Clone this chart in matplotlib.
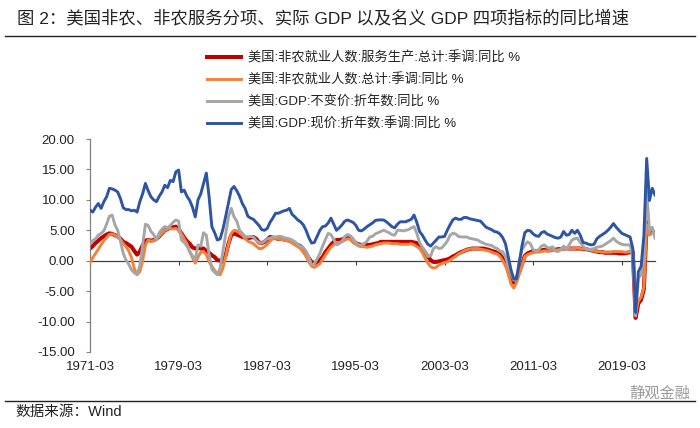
import matplotlib
matplotlib.use("Agg")
import matplotlib.pyplot as plt
from matplotlib.lines import Line2D

plt.rcParams['font.family'] = ['Liberation Sans', 'Noto Sans CJK SC', 'DejaVu Sans']

# quarterly yoy %, 1971Q1 .. 2022Q1 (one row per year)
services_payroll = [
    2.0, 2.4, 2.9, 3.3,  3.7, 4.0, 4.3, 4.5,  4.4, 4.2, 4.0, 3.6,  3.1, 2.9, 2.6, 2.3,
    1.6, 1.0, 1.5, 2.5,  3.3, 3.4, 3.3, 3.4,  3.6, 4.0, 4.5, 5.0,  5.2, 5.4, 5.5, 5.6,
    5.2, 4.5, 3.8, 3.2,  2.8, 2.2, 2.0, 2.1,  2.0, 2.0, 1.6, 1.3,  0.9, 0.6, 0.1, 0.0,
    -0.2, 0.9, 2.8, 4.2,  4.5, 4.3, 4.1, 3.9,  3.8, 3.7, 3.8, 3.9,  3.6, 3.0, 2.9, 3.1,
    3.5, 3.9, 3.8, 3.7,  3.6, 3.6, 3.5, 3.4,  3.3, 3.1, 2.8, 2.6,  2.4, 1.9, 1.2, 0.4,
    -0.2, -0.4, -0.3, 0.1,  0.6, 1.4, 2.0, 2.6,  3.1, 3.4, 3.4, 3.5,  3.7, 3.9, 3.7, 3.2,
    2.9, 2.7, 2.6, 2.6,  2.6, 2.6, 2.7, 2.8,  2.9, 3.1, 3.1, 3.1,  3.1, 3.1, 3.1, 3.1,
    3.1, 3.1, 3.1, 3.1,  3.1, 3.0, 2.9, 2.5,  2.0, 1.3, 0.7, 0.1,  -0.2, -0.2, -0.1, 0.0,
    0.1, 0.2, 0.4, 0.7,  0.9, 1.2, 1.4, 1.6,  1.8, 1.9, 2.0, 2.0,  2.0, 2.0, 2.0, 1.9,
    1.8, 1.6, 1.5, 1.3,  1.0, 0.4, -0.3, -1.5,  -3.0, -3.6, -2.8, -1.8,  -0.5, 0.8, 1.2, 1.4,
    1.6, 1.6, 1.6, 1.7,  1.8, 1.7, 1.7, 1.8,  1.8, 1.9, 1.9, 2.0,  2.0, 2.0, 2.0, 2.0,
    2.0, 2.0, 1.9, 1.9,  1.8, 1.7, 1.6, 1.5,  1.4, 1.4, 1.3, 1.3,  1.3, 1.3, 1.3, 1.2,
    1.2, 1.2, 1.3, 1.4,  1.4, -9.4, -7.0, -6.4,  -4.6, 6.4, 4.4, 4.8,  4.6,
]

total_payroll = [
    -0.2, 0.5, 1.2, 1.9,  2.6, 3.3, 3.8, 4.3,  4.4, 4.2, 3.9, 3.5,  2.8, 2.3, 1.6, 0.5,
    -1.3, -2.3, -1.8, 0.0,  2.5, 3.4, 3.2, 3.3,  3.6, 4.0, 4.5, 5.0,  5.2, 5.3, 5.2, 5.3,
    5.0, 4.4, 3.6, 2.8,  1.5, 0.5, -0.4, 0.6,  1.4, 1.5, 1.0, -0.2,  -0.9, -1.6, -2.2, -2.3,
    -1.2, 0.7, 2.7, 4.5,  5.0, 4.9, 4.5, 4.2,  3.6, 3.2, 3.0, 2.8,  2.4, 2.0, 2.0, 2.3,
    2.7, 3.2, 3.6, 3.7,  3.6, 3.5, 3.4, 3.3,  3.2, 2.9, 2.6, 2.3,  2.0, 1.4, 0.7, -0.2,
    -0.9, -1.1, -0.8, -0.5,  0.2, 0.9, 1.6, 2.2,  2.6, 3.0, 3.0, 3.1,  3.4, 3.6, 3.5, 3.0,
    2.7, 2.4, 2.3, 2.3,  2.2, 2.3, 2.4, 2.6,  2.7, 2.8, 2.9, 2.9,  2.9, 2.8, 2.8, 2.8,
    2.7, 2.7, 2.7, 2.7,  2.8, 2.6, 2.3, 2.0,  1.3, 0.4, -0.4, -1.0,  -1.2, -1.1, -0.7, -0.5,
    -0.3, -0.2, 0.1, 0.4,  0.7, 1.1, 1.3, 1.6,  1.8, 1.9, 2.0, 2.0,  2.0, 1.9, 1.8, 1.7,
    1.6, 1.4, 1.2, 1.1,  0.7, 0.0, -0.8, -2.2,  -3.8, -4.5, -3.6, -2.2,  -0.8, 0.7, 1.0, 1.2,
    1.3, 1.4, 1.4, 1.5,  1.6, 1.6, 1.7, 1.7,  1.7, 1.8, 1.8, 1.9,  1.9, 2.0, 2.0, 2.0,
    2.1, 2.0, 1.9, 1.9,  1.8, 1.7, 1.6, 1.5,  1.5, 1.4, 1.4, 1.4,  1.4, 1.5, 1.5, 1.5,
    1.5, 1.4, 1.4, 1.5,  1.4, -8.8, -6.6, -6.0,  -4.3, 5.9, 4.2, 4.6,  4.4,
]

real_gdp = [
    2.8, 3.3, 3.6, 4.2,  4.5, 4.9, 6.0, 7.3,  7.5, 5.9, 5.0, 3.2,  1.2, 0.1, -0.6, -1.5,
    -2.0, -2.3, -0.8, 2.5,  6.0, 5.8, 4.8, 4.3,  3.4, 4.6, 5.2, 5.6,  5.4, 5.8, 6.3, 6.7,
    6.5, 3.4, 3.0, 2.4,  1.5, 0.8, 0.1, 2.6,  2.4, 4.6, 4.2, 1.0,  -1.4, -1.9, -2.3, -1.2,
    1.6, 4.5, 7.2, 8.6,  7.2, 6.5, 5.0, 4.5,  4.0, 3.9, 4.0, 3.9,  3.3, 3.0, 2.9, 3.2,
    3.6, 3.7, 3.9, 3.9,  4.0, 4.0, 3.8, 3.7,  3.6, 3.4, 3.1, 2.7,  2.4, 2.1, 1.6, 0.6,
    -0.7, -0.5, 0.3, 1.2,  2.4, 3.5, 4.5, 4.3,  3.5, 2.6, 2.8, 3.2,  4.0, 4.3, 4.1, 3.6,
    3.0, 2.6, 2.6, 2.8,  3.2, 3.9, 4.0, 4.4,  4.6, 4.8, 5.0, 4.8,  4.6, 4.3, 4.2, 5.0,
    5.0, 4.9, 5.0, 5.1,  5.4, 5.6, 4.5, 3.0,  2.2, 1.5, 0.7, 0.8,  2.0, 2.3, 2.0, 2.1,
    2.6, 3.2, 4.2, 4.5,  4.4, 4.0, 3.9, 3.9,  3.9, 3.7, 3.6, 3.5,  3.4, 3.1, 2.9, 2.7,
    2.6, 2.5, 2.2, 2.0,  1.6, 1.5, 0.7, -0.9,  -2.1, -3.2, -3.1, -0.2,  1.8, 2.6, 3.1, 2.8,
    1.8, 1.6, 1.8, 2.4,  2.6, 2.2, 2.1, 2.3,  1.6, 1.5, 1.9, 2.4,  1.8, 2.6, 3.4, 3.6,
    3.7, 3.0, 2.4, 2.0,  1.8, 1.9, 2.0, 2.2,  2.3, 2.4, 2.7, 3.0,  3.3, 3.7, 3.2, 2.9,
    2.7, 2.6, 2.6, 2.6,  0.6, -9.1, -2.9, -2.3,  0.5, 11.5, 4.9, 5.5,  3.7,
]

nominal_gdp = [
    8.3, 8.0, 8.8, 9.4,  8.6, 9.7, 10.5, 11.9,  11.8, 11.6, 11.3, 10.2,  8.7, 8.4, 8.4, 8.2,
    8.3, 8.0, 9.7, 11.0,  12.7, 11.5, 10.5, 10.0,  9.7, 10.6, 11.3, 12.4,  12.0, 13.2, 13.0, 14.6,
    14.9, 11.3, 11.6, 10.6,  9.9, 8.8, 7.2, 10.0,  11.0, 12.7, 14.4, 10.5,  5.6, 4.6, 3.4, 3.6,
    5.2, 7.3, 9.5, 11.7,  12.2, 11.5, 10.6, 9.4,  8.6, 7.3, 7.0, 6.8,  6.3, 5.8, 5.1, 5.0,
    5.3, 6.3, 7.0, 7.8,  7.8, 8.0, 8.2, 8.3,  8.6, 7.6, 7.2, 6.7,  6.4, 5.9, 5.0, 3.8,
    2.9, 3.0, 4.0, 5.0,  5.6, 5.7, 6.2, 7.0,  6.0, 5.0, 5.4, 5.9,  6.5, 6.7, 6.5, 6.3,
    5.8, 5.0, 4.9, 5.2,  5.6, 5.9, 6.2, 6.6,  6.7, 6.7, 6.7, 6.4,  6.0, 5.6, 5.4, 6.0,
    6.4, 6.4, 6.4, 6.6,  6.8, 7.5, 6.3, 4.8,  4.2, 3.4, 2.7, 2.4,  2.9, 3.4, 3.9, 3.9,
    4.0, 5.0, 5.9, 6.7,  7.0, 6.8, 6.8, 7.1,  7.1, 6.9, 6.8, 6.7,  6.6, 6.5, 6.0, 5.5,
    5.3, 5.1, 4.8, 4.7,  4.4, 3.8, 2.8, 0.7,  -1.5, -3.0, -3.0, -0.3,  2.5, 4.6, 5.0, 4.9,
    4.4, 4.1, 4.0, 4.6,  4.8, 4.4, 4.2, 4.0,  3.8, 3.7, 3.9, 4.8,  4.2, 4.3, 5.0, 4.5,
    5.0, 4.2, 3.0, 2.9,  2.7, 2.6, 2.7, 3.6,  4.0, 4.3, 4.6, 5.0,  5.5, 6.1, 5.5, 5.0,
    4.5, 4.3, 4.1, 3.9,  2.0, -8.5, -1.8, -0.9,  4.2, 16.8, 9.9, 11.9,  10.8,
]

labels = [
    '美国:非农就业人数:服务生产:总计:季调:同比 %',
    '美国:非农就业人数:总计:季调:同比 %',
    '美国:GDP:不变价:折年数:同比 %',
    '美国:GDP:现价:折年数:季调:同比 %',
]
colors = ['#C00000', '#F2823A', '#A6A6A6', '#2E55A3']
widths = [2.9, 2.1, 2.1, 2.1]

tick_years = list(range(1971, 2020, 8))
tick_labels = [f'{y}-03' for y in tick_years]

fig = plt.figure(figsize=(7, 4.28), dpi=100)
ax = fig.add_axes([90 / 700, 1 - 352 / 428, 565 / 700, 213 / 428])

q = list(range(len(nominal_gdp)))
series = [services_payroll, total_payroll, real_gdp, nominal_gdp]
for i, (s, lab, c, w) in enumerate(zip(series, labels, colors, widths)):
    ax.plot(q, s, color=c, lw=w, label=lab, zorder=2 + i, solid_joinstyle='round')

ax.set_xlim(0, len(q) - 1)
ax.set_ylim(-15, 20)
ax.set_yticks(range(-15, 21, 5))
ax.set_yticklabels([f'{v:.2f}' for v in range(-15, 21, 5)])
ax.set_xticks([(y - 1971) * 4 for y in tick_years])
ax.set_xticklabels(tick_labels)

for side in ['top', 'right']:
    ax.spines[side].set_visible(False)
ax.spines['bottom'].set_position(('data', 0))
ax.spines['bottom'].set_color('#404040')
ax.spines['bottom'].set_linewidth(0.9)
ax.spines['bottom'].set_zorder(1)
ax.spines['left'].set_color('#808080')
ax.spines['left'].set_linewidth(0.9)
ax.tick_params(axis='y', direction='out', length=3, width=0.8, color='#808080',
               pad=8, labelsize=9.5, labelcolor='#222222')
ax.tick_params(axis='x', direction='out', length=3, width=0.8, color='#404040',
               pad=69, labelsize=9.5, labelcolor='#222222')

fig.legend(loc='upper left', bbox_to_anchor=(207 / 700, 1 - 51 / 428),
           frameon=False, fontsize=9.5, handlelength=2.6, handletextpad=0.5,
           labelspacing=0.68, borderpad=0, borderaxespad=0, labelcolor='#222222')

fig.text(17 / 700, 1 - 18 / 428,
         '图 2：美国非农、非农服务分项、实际 GDP 以及名义 GDP 四项指标的同比增速',
         fontsize=12.5, va='center', ha='left', color='#222222')
fig.add_artist(Line2D([5 / 700, 695 / 700], [1 - 36 / 428] * 2, color='#222222', lw=1.0))
fig.add_artist(Line2D([5 / 700, 695 / 700], [1 - 400.5 / 428] * 2, color='#222222', lw=1.0))
fig.text(15 / 700, 1 - 412 / 428, '数据来源：Wind', fontsize=10.5, va='center',
         ha='left', color='#222222')
fig.text(690 / 700, 1 - 394 / 428, '静观金融', fontsize=11, va='center', ha='right',
         color='#9a9a9a')

fig.savefig('out.png', dpi=100)
